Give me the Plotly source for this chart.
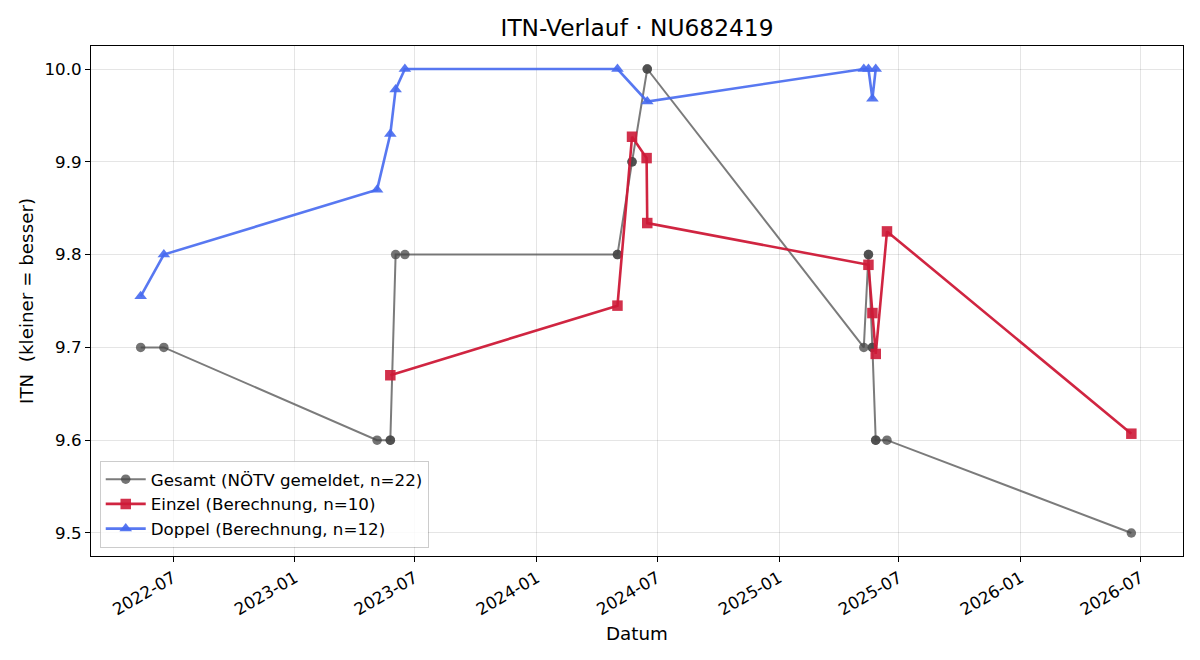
import plotly.graph_objects as go

# ---- data ----
gesamt_dates = ["2022-05-13", "2022-06-17", "2023-05-05", "2023-05-25", "2023-05-25",
                "2023-06-02", "2023-06-16", "2024-05-02", "2024-05-02", "2024-05-24",
                "2024-05-24", "2024-06-16", "2024-06-16", "2025-05-09", "2025-05-16",
                "2025-05-16", "2025-05-22", "2025-05-22", "2025-05-27", "2025-05-27",
                "2025-06-13", "2026-06-17"]
gesamt_vals = [9.7, 9.7, 9.6, 9.6, 9.6,
               9.8, 9.8, 9.8, 9.8, 9.9,
               9.9, 10.0, 10.0, 9.7, 9.8,
               9.8, 9.7, 9.7, 9.6, 9.6,
               9.6, 9.5]

einzel_dates = ["2023-05-25", "2024-05-02", "2024-05-24", "2024-06-15", "2024-06-16",
                "2025-05-16", "2025-05-22", "2025-05-27", "2025-06-13", "2026-06-17"]
einzel_vals = [9.670, 9.745, 9.927, 9.904, 9.834,
               9.789, 9.737, 9.693, 9.825, 9.607]

doppel_dates = ["2022-05-13", "2022-06-17", "2023-05-05", "2023-05-25", "2023-06-02",
                "2023-06-16", "2024-05-02", "2024-06-16", "2025-05-09", "2025-05-16",
                "2025-05-22", "2025-05-27"]
doppel_vals = [9.755, 9.800, 9.870, 9.930, 9.978,
               10.0, 10.0, 9.965, 10.0, 10.0,
               9.968, 10.0]

title = "ITN-Verlauf · NU682419"
x_title = "Datum"
y_title = "ITN  (kleiner = besser)"
y_ticks = [9.5, 9.6, 9.7, 9.8, 9.9, 10.0]

FONT = "DejaVu Sans"
TICK_SIZE = 16.7
LABEL_SIZE = 18.3
TITLE_SIZE = 23.3

fig = go.Figure()
fig.add_trace(go.Scatter(
    x=gesamt_dates, y=gesamt_vals, mode="lines+markers",
    name=f"Gesamt (NÖTV gemeldet, n={len(gesamt_vals)})",
    line=dict(color="rgba(90,90,90,0.8)", width=2),
    marker=dict(symbol="circle", size=9.5, color="rgba(70,70,70,0.75)",
                line=dict(width=0)),
))
fig.add_trace(go.Scatter(
    x=einzel_dates, y=einzel_vals, mode="lines+markers",
    name=f"Einzel (Berechnung, n={len(einzel_vals)})",
    line=dict(color="rgba(205,25,55,0.95)", width=2.6),
    marker=dict(symbol="square", size=10.5, color="rgba(205,25,55,0.9)",
                line=dict(width=0)),
))
fig.add_trace(go.Scatter(
    x=doppel_dates, y=doppel_vals, mode="lines+markers",
    name=f"Doppel (Berechnung, n={len(doppel_vals)})",
    line=dict(color="rgba(70,105,240,0.9)", width=2.6),
    marker=dict(symbol="triangle-up", size=11, color="rgba(70,105,240,0.9)",
                line=dict(width=0)),
))

axis_common = dict(
    showline=True, linecolor="black", linewidth=1, mirror=True,
    ticks="outside", ticklen=5, tickcolor="black",
    showgrid=True, gridcolor="rgba(0,0,0,0.1)", gridwidth=1,
    zeroline=False,
    tickfont=dict(family=FONT, size=TICK_SIZE, color="black"),
)

fig.update_layout(
    width=1200, height=660,
    margin=dict(l=91, r=17, t=46, b=104),
    paper_bgcolor="white", plot_bgcolor="white",
    font=dict(family=FONT, color="black"),
    title=dict(text=title, x=0.5, xref="paper", xanchor="center",
               y=1 - 28 / 660, yanchor="middle", yref="container",
               font=dict(family=FONT, size=TITLE_SIZE, color="black")),
    xaxis=dict(
        type="date", range=["2022-02-27", "2026-09-03"],
        dtick="M6", tick0="2022-01-01", tickformat="%Y-%m", tickangle=-30,
        **axis_common,
    ),
    yaxis=dict(
        range=[9.4752, 10.0248], tickvals=y_ticks,
        ticktext=[f"{v:.1f}" for v in y_ticks],
        **axis_common,
    ),
    legend=dict(
        x=0.008, y=0.016, xanchor="left", yanchor="bottom",
        bgcolor="rgba(255,255,255,0.85)", bordercolor="rgba(0,0,0,0.2)", borderwidth=1,
        font=dict(family=FONT, size=TICK_SIZE, color="black"),
        tracegroupgap=0, itemwidth=40,
    ),
    showlegend=True,
    annotations=[
        dict(text=x_title, xref="paper", yref="paper", x=0.5, y=-(633 - 556) / 510,
             xanchor="center", yanchor="middle", showarrow=False,
             font=dict(family=FONT, size=LABEL_SIZE, color="black")),
        dict(text=y_title, xref="paper", yref="paper", x=-(91 - 26) / 1092, y=0.5,
             xanchor="center", yanchor="middle", showarrow=False, textangle=-90,
             font=dict(family=FONT, size=LABEL_SIZE, color="black")),
    ],
)

fig.write_html("out.html")
